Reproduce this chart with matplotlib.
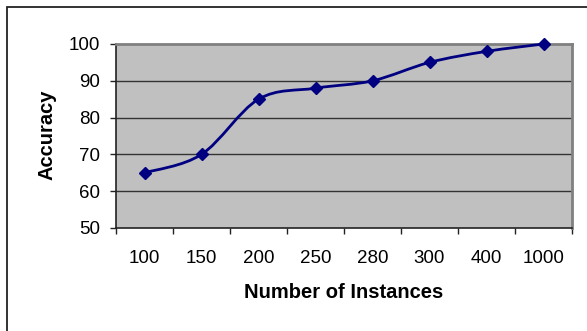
import matplotlib
matplotlib.use("Agg")
import matplotlib.pyplot as plt
from matplotlib.path import Path
from matplotlib.patches import PathPatch, Rectangle
import numpy as np

categories = ["100", "150", "200", "250", "280", "300", "400", "1000"]
accuracy = [65, 70, 85, 88, 90, 95, 98, 100]
y_ticks = [50, 60, 70, 80, 90, 100]

plt.rcParams['font.family'] = ['Liberation Sans', 'DejaVu Sans']

W, H = 587, 331
fig = plt.figure(figsize=(W / 100, H / 100), dpi=100)
fig.patch.set_facecolor('white')

# outer chart border (offset, extends past right/bottom edges)
fig.patches.append(Rectangle((7 / W, -0.2), 1.5, 1 - 7 / H + 0.2,
                             transform=fig.transFigure, fill=False,
                             edgecolor='#222222', linewidth=1.3, zorder=0))

left, right, top, bottom = 116, 572, 44, 228
ax = fig.add_axes([left / W, 1 - bottom / H, (right - left) / W, (bottom - top) / H])
ax.set_facecolor('#C0C0C0')

n = len(categories)
xs = np.arange(n)
ax.set_xlim(-0.5, n - 0.5)
ax.set_ylim(50, 100)

# gridlines
for yv in y_ticks[1:-1]:
    ax.axhline(yv, color='#333333', linewidth=1.0, zorder=1)

# smooth curve through points (Catmull-Rom as cubic Bezier)
ys = np.array(accuracy, dtype=float)
verts = [(xs[0], ys[0])]
codes = [Path.MOVETO]
for i in range(n - 1):
    p0 = (xs[max(i - 1, 0)], ys[max(i - 1, 0)])
    p1 = (xs[i], ys[i])
    p2 = (xs[i + 1], ys[i + 1])
    p3 = (xs[min(i + 2, n - 1)], ys[min(i + 2, n - 1)])
    c1 = (p1[0] + (p2[0] - p0[0]) / 6, p1[1] + (p2[1] - p0[1]) / 6)
    c2 = (p2[0] - (p3[0] - p1[0]) / 6, p2[1] - (p3[1] - p1[1]) / 6)
    verts += [c1, c2, p2]
    codes += [Path.CURVE4] * 3
ax.add_patch(PathPatch(Path(verts, codes), facecolor='none', edgecolor='#000080',
                       linewidth=2.0, zorder=3, clip_on=False))
ax.plot(xs, ys, linestyle='none', marker='D', markersize=6.5, color='#000080',
        zorder=4, clip_on=False)

# spines
for s in ['top', 'right']:
    ax.spines[s].set_color('#808080')
    ax.spines[s].set_linewidth(2.0)
ax.spines['left'].set_color('#222222')
ax.spines['bottom'].set_color('#222222')
ax.spines['left'].set_linewidth(1.2)
ax.spines['bottom'].set_linewidth(1.2)

ax.set_yticks(y_ticks)
ax.set_yticklabels([str(v) for v in y_ticks], fontsize=13.5)
ax.tick_params(axis='y', direction='out', length=4.5, width=1.0, color='#222222', pad=7)

# x: tick marks between categories, labels at centers
ax.set_xticks(np.arange(n + 1) - 0.5)
ax.set_xticklabels([])
ax.set_xticks(xs, minor=True)
ax.set_xticklabels(categories, minor=True, fontsize=13.5)
ax.tick_params(axis='x', which='major', direction='out', length=4.5, width=1.0, color='#222222')
ax.tick_params(axis='x', which='minor', length=0, pad=16)

ax.set_xlabel('Number of Instances', fontsize=14.5, fontweight='bold')
ax.xaxis.label.set_va('center')
ax.xaxis.set_label_coords(0.5, (bottom - 293) / (bottom - top))
ax.set_ylabel('Accuracy', fontsize=14.5, fontweight='bold')
ax.yaxis.label.set_va('center')
ax.yaxis.set_label_coords((47 - left) / (right - left), (bottom - 135) / (bottom - top))

fig.savefig('out.png', dpi=100)
